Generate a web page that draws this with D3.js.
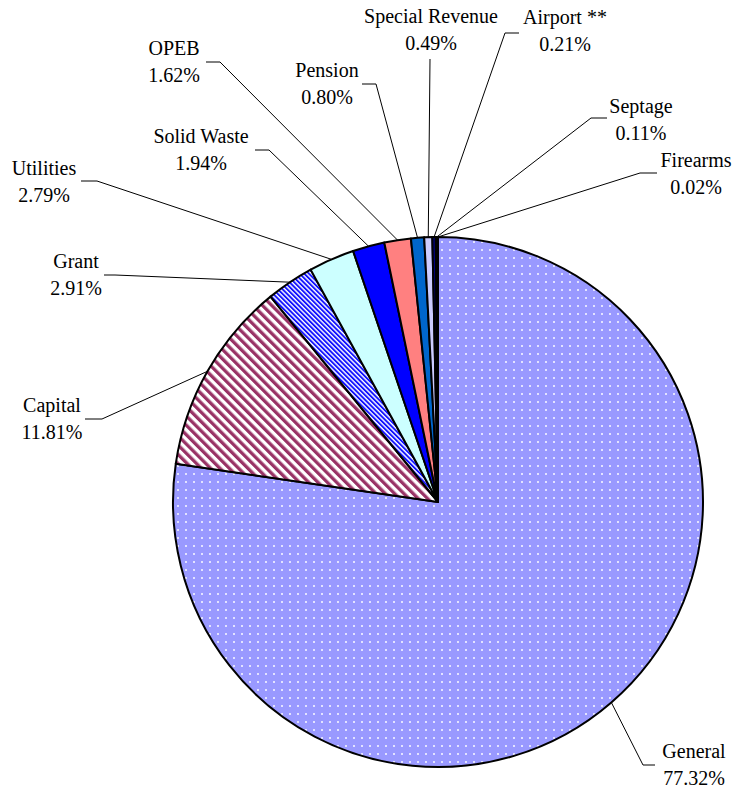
<!DOCTYPE html>
<html>
<head>
  <script type="text/javascript" src="https://cdn.jsdelivr.net/npm/d3@7"></script>
  <style>
    body { margin: 0; background: #fff; }
    text { font-family: "Liberation Serif", "Times New Roman", serif; font-size: 20px; fill: #000; }
  </style>
</head>
<body>
  <div id="chart"></div>
  <script type="text/javascript">

    var w = 733;
    var h = 788;

    // data
    var funds = ["General", "Capital", "Grant", "Utilities", "Solid Waste", "OPEB",
                 "Pension", "Special Revenue", "Airport **", "Septage", "Firearms"];
    var shares = [77.32, 11.81, 2.91, 2.79, 1.94, 1.62, 0.80, 0.49, 0.21, 0.11, 0.02];

    // fills (some are patterns, defined below)
    var fills = ["url(#dots)", "url(#stripeCap)", "url(#stripeGrant)", "#CCFFFF", "#0000FF", "#FF8080",
                 "#0066CC", "#CCCCFF", "#000080", "#FF00FF", "#FFFF00"];

    // label placement: centre x, first baseline, leader y, elbow x, leader end x
    var labelPos = {
      "General":         [694, 758, 765, 643, 655],
      "Capital":         [52, 412, 419, 102, 85],
      "Grant":           [76, 268, 275, 115, 104],
      "Utilities":       [44, 175, 181, 97, 81],
      "Solid Waste":     [201, 143, 150, 269, 255],
      "OPEB":            [174, 55, 62, 220, 206],
      "Pension":         [327, 77, 84, 376, 362],
      "Special Revenue": [431, 23, 59, 430, 430],
      "Airport **":      [565, 24, 33, 505, 519],
      "Septage":         [641, 113, 118, 591, 607],
      "Firearms":        [696, 167, 173, 640, 657]
    };

    var cx = 438, cy = 502, radius = 265;

    var svg = d3.select("#chart")
      .append("svg")
      .attr("width", w)
      .attr("height", h);

    var defs = svg.append("defs");

    // dotted fill for General
    var dots = defs.append("pattern")
      .attr("id", "dots")
      .attr("patternUnits", "userSpaceOnUse")
      .attr("width", 8).attr("height", 8);
    dots.append("rect").attr("width", 8).attr("height", 8).attr("fill", "#9999FF");
    dots.append("rect").attr("x", 3).attr("y", 3).attr("width", 2).attr("height", 2).attr("fill", "#E2E2FF");

    // wide maroon stripes for Capital
    var cap = defs.append("pattern")
      .attr("id", "stripeCap")
      .attr("patternUnits", "userSpaceOnUse")
      .attr("width", 6.6).attr("height", 6.6)
      .attr("patternTransform", "rotate(-45)");
    cap.append("rect").attr("width", 6.6).attr("height", 6.6).attr("fill", "#fff");
    cap.append("rect").attr("width", 3.3).attr("height", 6.6).attr("fill", "#993366");

    // fine blue stripes for Grant
    var gr = defs.append("pattern")
      .attr("id", "stripeGrant")
      .attr("patternUnits", "userSpaceOnUse")
      .attr("width", 3.3).attr("height", 3.3)
      .attr("patternTransform", "rotate(-45)");
    gr.append("rect").attr("width", 3.3).attr("height", 3.3).attr("fill", "#fff");
    gr.append("rect").attr("width", 1.9).attr("height", 3.3).attr("fill", "#1111FF");

    var pie = d3.pie().sort(null);
    var arcs = pie(shares);

    var arc = d3.arc().innerRadius(0).outerRadius(radius);

    var g = svg.append("g")
      .attr("transform", "translate(" + cx + "," + cy + ")");

    g.selectAll("path.slice")
      .data(arcs)
      .enter()
      .append("path")
      .attr("class", "slice")
      .attr("d", arc)
      .attr("fill", function(d, i) { return fills[i]; })
      .attr("stroke", "#000")
      .attr("stroke-width", 2)
      .attr("stroke-linejoin", "round");

    // leader lines
    arcs.forEach(function(d, i) {
      var p = labelPos[funds[i]];
      var a = (d.startAngle + d.endAngle) / 2;
      var ex = cx + radius * Math.sin(a);
      var ey = cy - radius * Math.cos(a);
      svg.append("polyline")
        .attr("points", [[ex, ey], [p[3], p[2]], [p[4], p[2]]].map(function(q) { return q.join(","); }).join(" "))
        .attr("fill", "none")
        .attr("stroke", "#000")
        .attr("stroke-width", 1);
    });

    // labels
    funds.forEach(function(name, i) {
      var p = labelPos[name];
      var t = svg.append("text")
        .attr("text-anchor", "middle")
        .attr("x", p[0])
        .attr("y", p[1]);
      t.append("tspan").attr("x", p[0]).text(name);
      t.append("tspan").attr("x", p[0]).attr("dy", 27).text(shares[i].toFixed(2) + "%");
    });

  </script>
</body>
</html>
